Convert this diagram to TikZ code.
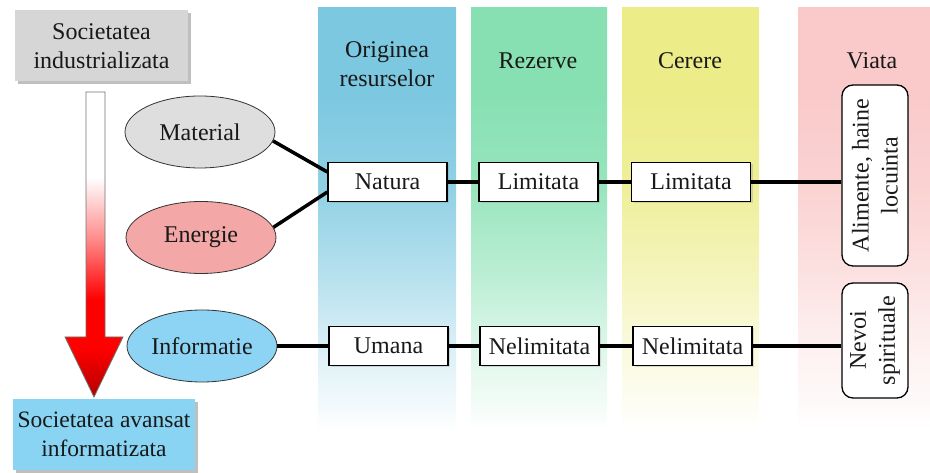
\documentclass[tikz,border=0pt]{standalone}
\usepackage{fontspec}
\setmainfont{Liberation Serif}
\usetikzlibrary{shapes.geometric,shadows}

\definecolor{cblue}{HTML}{7CC8E0}
\definecolor{cgreen}{HTML}{86E0B2}
\definecolor{cyellow}{HTML}{ECEC88}
\definecolor{cpink}{HTML}{FACACA}
\definecolor{ovgray}{HTML}{DEDEDE}
\definecolor{ovpink}{HTML}{F4A7A7}
\definecolor{ovblue}{HTML}{8DD4F4}
\definecolor{erablue}{HTML}{88D4F2}
\definecolor{eragray}{HTML}{D6D6D6}
\colorlet{arrowdark}{red!70!black}
\colorlet{arrowmid}{red!45!white}

% vertical fade from a full colour at the top to white at the bottom
% (the band 25bp..75bp is stretched over the shaded path)
\newcommand{\fadeshading}[2]{%
  \colorlet{#1A}{#2!10!white}%
  \colorlet{#1B}{#2!28!white}%
  \colorlet{#1C}{#2!55!white}%
  \colorlet{#1D}{#2!85!white}%
  \pgfdeclareverticalshading{#1}{100bp}{color(0bp)=(white); color(25bp)=(white);
    color(28bp)=(#1A); color(35bp)=(#1B); color(43bp)=(#1C); color(54bp)=(#1D);
    color(65bp)=(#2); color(100bp)=(#2)}}
\fadeshading{fadeblue}{cblue}
\fadeshading{fadegreen}{cgreen}
\fadeshading{fadeyellow}{cyellow}
\fadeshading{fadepink}{cpink}

% the arrow: white shaft turning red, darker tip
\pgfdeclareverticalshading{arrowfade}{100bp}{color(0bp)=(arrowdark);
  color(25bp)=(arrowdark); color(33bp)=(red); color(41bp)=(red);
  color(51bp)=(arrowmid); color(61bp)=(white); color(100bp)=(white)}

\begin{document}
\begin{tikzpicture}[x=1pt,y=1pt,
  every node/.style={font=\fontsize{24}{29}\selectfont, text=black!90, align=center},
  cell/.style={draw=black, line width=1.3pt, fill=white, minimum width=119pt,
    minimum height=39pt, inner sep=0pt,
    drop shadow={shadow xshift=2pt, shadow yshift=-2pt, opacity=.25}},
  oval/.style={ellipse, draw=black!80, line width=0.8pt, minimum width=150pt,
    minimum height=72pt, inner sep=0pt},
  tag/.style={rotate=90, rounded corners=11pt, draw=black, line width=1.3pt,
    fill=white, minimum height=66pt, inner sep=0pt},
  era/.style={minimum height=71pt, inner sep=0pt,
    drop shadow={shadow xshift=3pt, shadow yshift=-3pt, opacity=.5}},
  link/.style={line width=3.5pt, black}
]
\useasboundingbox (0,0) rectangle (930,473);

% coloured columns
\shade[shading=fadeblue]   (318,465) rectangle (456,43);
\shade[shading=fadegreen]  (471,465) rectangle (607,43);
\shade[shading=fadeyellow] (622,465) rectangle (759,43);
\shade[shading=fadepink]   (798,465) rectangle (930,43);

% column headings
\node (hOrig) at (387,409) {Originea\\resurselor};
\node (hRez)  at (538,412) {Rezerve};
\node (hCer)  at (690,412) {Cerere};
\node (hVia)  at (872,412) {Viata};

% the two stages of society
\node[era, fill=eragray, minimum width=173pt] (ind) at (101.5,427)
  {Societatea\\industrializata};
\node[era, fill=erablue, minimum width=182pt,
  font=\fontsize{23.5}{29}\selectfont] (inf) at (104,38.5)
  {Societatea avansat\\informatizata};

% transition arrow
\shade[shading=arrowfade, draw=black!55, line width=0.8pt]
  (86,381) -- (105,381) -- (105,136) -- (123,136) -- (94,76) -- (65,136)
  -- (86,136) -- cycle;

% resources
\node[oval, fill=ovgray] (mat) at (200,341) {Material};
\node[oval, fill=ovpink] (ene) at (201,235.5) {Energie};
\node[oval, fill=ovblue] (info) at (202,127) {Informatie};

% first row
\node[cell] (nat)  at (387.5,291) {Natura};
\node[cell] (lim1) at (538.5,291) {Limitata};
\node[cell] (lim2) at (691,291)   {Limitata};
\node[tag, minimum width=181pt] (alim) at (875,297.5) {Alimente, haine\\locuinta};

% second row
\node[cell] (uma)  at (388.5,127) {Umana};
\node[cell] (nel1) at (539.5,127) {Nelimitata};
\node[cell] (nel2) at (692.5,127) {Nelimitata};
\node[tag, minimum width=115pt] (nev) at (875,132.5) {Nevoi\\spirituale};

% connectors
\draw[link] (mat.-7) -- ([yshift=10pt]nat.west);
\draw[link] (ene.8) -- ([yshift=-10pt]nat.west);
\draw[link] (nat) -- (lim1);
\draw[link] (lim1) -- (lim2);
\draw[link] (lim2.east) -- (lim2.east -| alim.north);
\draw[link] (info) -- (uma);
\draw[link] (uma) -- (nel1);
\draw[link] (nel1) -- (nel2);
\draw[link] (nel2.east) -- (nel2.east -| nev.north);
\end{tikzpicture}
\end{document}
